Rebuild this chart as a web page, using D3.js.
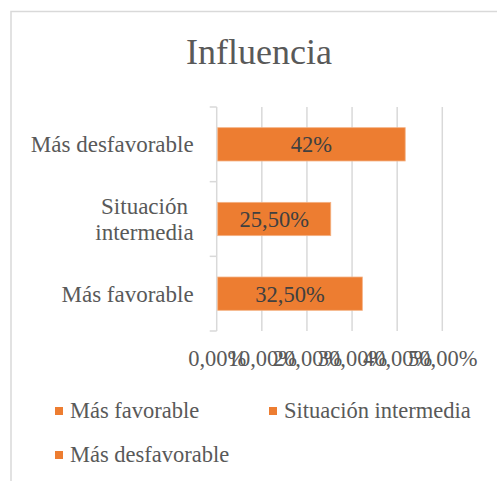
<!DOCTYPE html>
<html><head><meta charset="utf-8">
<script src="https://cdn.jsdelivr.net/npm/d3@7"></script>
<style>body{margin:0;background:#fff}svg{display:block}</style>
</head><body><svg id="c" width="497" height="481"></svg>
<script>
const categories = ["Más desfavorable", "Situación intermedia", "Más favorable"];
const categoryLines = [["Más desfavorable"], ["Situación", "intermedia"], ["Más favorable"]];
const values = [0.42, 0.255, 0.325];
const valueLabels = ["42%", "25,50%", "32,50%"];
const xTicks = [0, 0.1, 0.2, 0.3, 0.4, 0.5];
const xTickLabels = ["0,00%", "10,00%", "20,00%", "30,00%", "40,00%", "50,00%"];
const legendItems = ["Más favorable", "Situación intermedia", "Más desfavorable"];
const title = "Influencia";

const font = "'Liberation Serif', 'DejaVu Serif', serif";
const orange = "#ED7D31", grid = "#d9d9d9", txt = "#595959";
const svg = d3.select("#c");

// stray text from document above (cut off in the reference too)
svg.append("text").attr("x", 24).attr("y", -6).attr("font-family", font).attr("font-size", 24).attr("fill", "#333").text("y");

// chart border
svg.append("rect").attr("x", 11).attr("y", 11.5).attr("width", 490).attr("height", 480)
  .attr("fill", "none").attr("stroke", grid).attr("stroke-width", 1.5);

svg.append("text").attr("x", 259).attr("y", 64).attr("text-anchor", "middle")
  .attr("font-family", font).attr("font-size", 36).attr("fill", txt).text(title);

const x = d3.scaleLinear().domain([0, 0.5]).range([216.7, 442.3]);
const y = d3.scaleBand().domain(categories).range([107, 331]).paddingInner(0.554).paddingOuter(0.277);

// gridlines
svg.append("g").selectAll("line").data(xTicks.slice(1)).join("line")
  .attr("x1", d => x(d)).attr("x2", d => x(d)).attr("y1", 107).attr("y2", 331)
  .attr("stroke", grid).attr("stroke-width", 1.5);

// x axis labels
const xAxis = d3.axisBottom(x).tickValues(xTicks).tickSize(0).tickFormat((d, i) => xTickLabels[i]);
const gx = svg.append("g").attr("transform", "translate(0,347)").call(xAxis);
gx.select(".domain").remove();
gx.selectAll("text").attr("font-family", font).attr("font-size", 22.5).attr("fill", txt).attr("dy", "0.71em");

// y axis
const step = y.step();
const bounds = d3.range(categories.length + 1).map(i => 107 + i * step);
svg.append("line").attr("x1", x(0)).attr("x2", x(0)).attr("y1", 107).attr("y2", 331)
  .attr("stroke", grid).attr("stroke-width", 1.5);
svg.append("g").selectAll("line").data(bounds).join("line")
  .attr("x1", x(0) - 7).attr("x2", x(0)).attr("y1", d => d).attr("y2", d => d)
  .attr("stroke", grid).attr("stroke-width", 1.5);

// category labels
const labelRight = x(0) - 23;
categories.forEach((c, i) => {
  const lines = categoryLines[i];
  const cy = y(c) + y.bandwidth() / 2;
  const lh = 26;
  const t = svg.append("text").attr("font-family", font).attr("font-size", 23).attr("fill", txt);
  const tmp = lines.map(l => t.append("tspan").text(l));
  const widths = tmp.map(s => s.node().getComputedTextLength());
  const maxW = d3.max(widths);
  tmp.forEach((s, j) => {
    s.attr("x", labelRight - maxW / 2).attr("text-anchor", "middle")
     .attr("y", cy + (j - (lines.length - 1) / 2) * lh).attr("dy", "0.35em");
  });
});

// bars
svg.append("g").selectAll("rect").data(values).join("rect")
  .attr("x", x(0) + 1).attr("y", (d, i) => y(categories[i]))
  .attr("width", d => x(d) - x(0) - 2).attr("height", y.bandwidth())
  .attr("fill", orange).attr("stroke", "#f4b183").attr("stroke-width", 0.8);

svg.append("g").selectAll("text").data(values).join("text")
  .attr("x", d => (x(0) + x(d)) / 2).attr("y", (d, i) => y(categories[i]) + y.bandwidth() / 2)
  .attr("dy", "0.35em").attr("text-anchor", "middle")
  .attr("font-family", font).attr("font-size", 22.5).attr("fill", "#404040")
  .text((d, i) => valueLabels[i]);

// legend
const legendPos = [[55, 411], [269, 411], [55, 455]];
legendItems.forEach((l, i) => {
  const [lx, ly] = legendPos[i];
  svg.append("rect").attr("x", lx).attr("y", ly - 4).attr("width", 8).attr("height", 8).attr("fill", orange);
  svg.append("text").attr("x", lx + 15).attr("y", ly + 7).attr("font-family", font).attr("font-size", 22.5)
    .attr("fill", txt).text(l);
});
</script></body></html>
